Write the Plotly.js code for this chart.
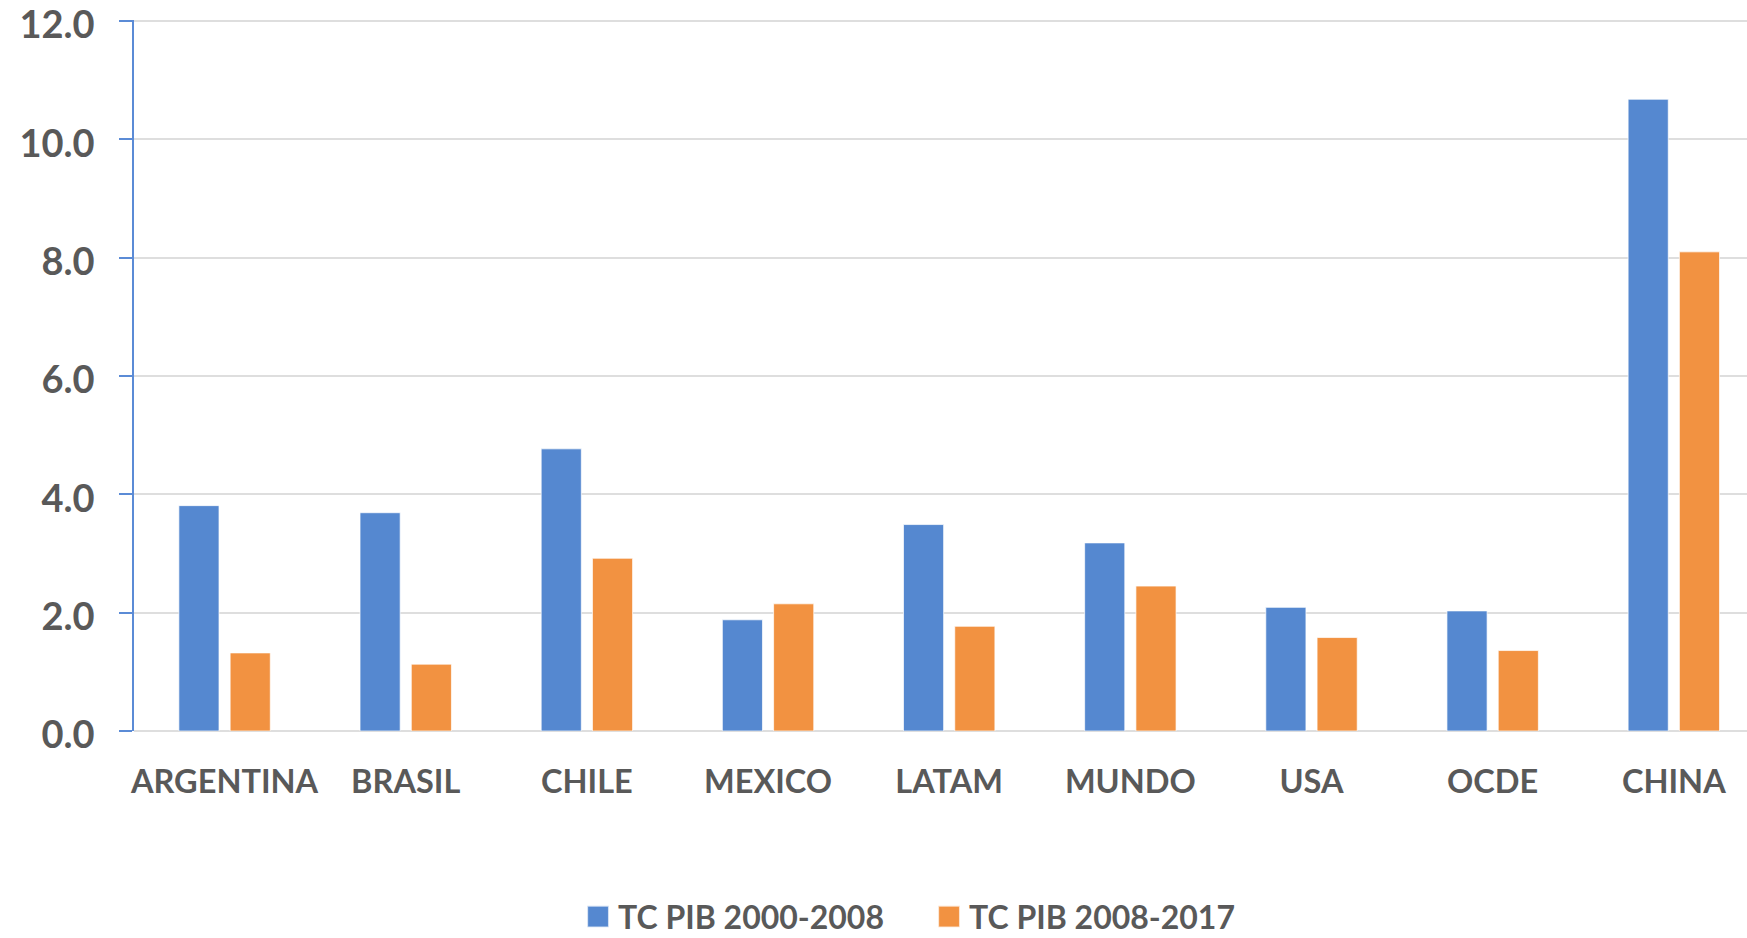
<!DOCTYPE html>
<html>
<head>
<meta charset="utf-8">
<script src="https://cdn.plot.ly/plotly-3.0.1.min.js"></script>
<style>
html, body { margin: 0; padding: 0; background: #ffffff; }
#chart { width: 1747px; height: 938px; }
</style>
</head>
<body>
<div id="chart"></div>
<script>
const categories = ["ARGENTINA", "BRASIL", "CHILE", "MEXICO", "LATAM", "MUNDO", "USA", "OCDE", "CHINA"];
const seriesNames = ["TC PIB 2000-2008", "TC PIB 2008-2017"];
const pib2000_2008 = [3.81, 3.69, 4.77, 1.88, 3.49, 3.18, 2.09, 2.03, 10.68];
const pib2008_2017 = [1.32, 1.13, 2.92, 2.15, 1.77, 2.45, 1.58, 1.36, 8.10];
const yTicks = [0, 2, 4, 6, 8, 10, 12];

const textColor = "#595959";
const fontFamily = "Lato, 'Open Sans', sans-serif";

const traces = [
  {
    type: "bar",
    name: seriesNames[0],
    x: categories,
    y: pib2000_2008,
    marker: { color: "#5588d0", line: { color: "rgba(255,255,255,0.7)", width: 1 } },
    hoverinfo: "x+y"
  },
  {
    type: "bar",
    name: seriesNames[1],
    x: categories,
    y: pib2008_2017,
    marker: { color: "#f29241", line: { color: "rgba(255,255,255,0.7)", width: 1 } },
    hoverinfo: "x+y"
  }
];

const layout = {
  width: 1747,
  height: 938,
  paper_bgcolor: "#ffffff",
  plot_bgcolor: "#ffffff",
  margin: { l: 134, r: 0, t: 20, b: 207, pad: 0, autoexpand: false },
  barmode: "group",
  bargap: 0.434,
  bargroupgap: 0.217,
  font: { family: fontFamily, color: textColor, size: 32, weight: "bold" },
  xaxis: {
    type: "category",
    range: [-0.5, 8.404],
    showline: false,
    showgrid: false,
    zeroline: false,
    ticks: "",
    ticklabelstandoff: 28,
    tickfont: { family: fontFamily, size: 32.5, color: textColor, weight: "bold" },
    fixedrange: true
  },
  yaxis: {
    range: [0, 12.02],
    tickmode: "array",
    tickvals: yTicks,
    tickformat: ".1f",
    ticklabeloverflow: "allow",
    showgrid: true,
    gridcolor: "#dedede",
    gridwidth: 2,
    zeroline: true,
    zerolinecolor: "#dedede",
    zerolinewidth: 2,
    showline: true,
    linecolor: "#5b8bd6",
    linewidth: 1.5,
    ticks: "outside",
    ticklen: 13,
    tickwidth: 1.5,
    tickcolor: "#5b8bd6",
    ticklabelstandoff: 17,
    tickfont: { family: fontFamily, size: 38, color: textColor, weight: "bold" },
    fixedrange: true
  },
  showlegend: true,
  legend: {
    orientation: "h",
    x: 0.4929,
    xanchor: "center",
    y: -0.2915,
    yanchor: "bottom",
    font: { family: fontFamily, size: 32, color: textColor, weight: "bold" },
    itemwidth: 30,
    entrywidth: 306,
    bgcolor: "rgba(0,0,0,0)"
  }
};

Plotly.newPlot("chart", traces, layout, { displayModeBar: false, responsive: false }).then(function () {
  document.querySelectorAll(".legendpoints path").forEach(function (p) {
    const t = p.getAttribute("transform") || "";
    p.setAttribute("transform", t + " scale(1.8)");
  });
  const lg = document.querySelector("g.legend");
  if (lg) {
    const t = lg.getAttribute("transform") || "";
    lg.setAttribute("transform", t + " translate(0,6)");
  }
  document.querySelectorAll("g.ytick text").forEach(function (tx) {
    const t = tx.getAttribute("transform") || "";
    tx.setAttribute("transform", t + " translate(0,4)");
  });
});
</script>
</body>
</html>
